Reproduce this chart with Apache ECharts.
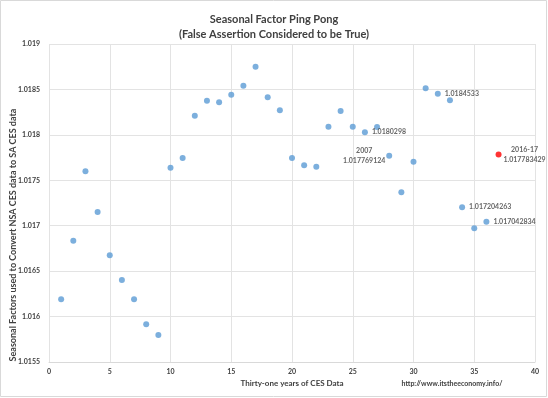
<!DOCTYPE html>
<html>
<head>
<meta charset="utf-8">
<script src="https://cdn.jsdelivr.net/npm/echarts@6/dist/echarts.min.js"></script>
<style>
  html, body { margin: 0; padding: 0; background: #fff; }
  #chart { width: 548px; height: 398px; }
</style>
</head>
<body>
<div id="chart"></div>
<script>
'use strict';

// years 1..36 of CES data, blue points
var years = [1, 2, 3, 4, 5, 6, 7, 8, 9, 10, 11, 12, 13, 14, 15, 16, 17, 18, 19, 20,
  21, 22, 23, 24, 25, 26, 27, 28, 29, 30, 31, 32, 33, 34, 35, 36];
var factors = [1.01619, 1.016835, 1.017599, 1.017151, 1.016674, 1.016403, 1.01619, 1.015915,
  1.015797, 1.017639, 1.017745, 1.018211, 1.018376, 1.018358, 1.018442, 1.018541, 1.01875,
  1.018413, 1.01827, 1.017745, 1.017665, 1.01765, 1.01809, 1.018263, 1.01809, 1.0180298,
  1.018087, 1.017769124, 1.017368, 1.017705, 1.018512, 1.0184533, 1.01838, 1.017204263,
  1.016972, 1.017042834];
// labelled points: year -> label text
var labelled = { 26: '1.0180298', 28: '2007\n1.017769124', 32: '1.0184533',
  34: '1.017204263', 36: '1.017042834' };

// latest year, red point
var latestYear = [37];
var latestFactor = [1.017783429];
var latestLabel = '2016-17\n1.017783429';

var yTicks = [1.0155, 1.016, 1.0165, 1.017, 1.0175, 1.018, 1.0185, 1.019];

var FONT = 'Lato';
var TXT = '#404040';

var blueData = years.map(function (x, i) {
  var item = { value: [x, factors[i]] };
  if (labelled[x]) {
    item.label = x === 28
      ? { show: true, formatter: labelled[x], position: [-22, 3], align: 'center', verticalAlign: 'middle' }
      : { show: true, formatter: labelled[x], position: 'right', distance: 4 };
  }
  return item;
});

var chart = echarts.init(document.getElementById('chart'));
chart.setOption({
  animation: false,
  textStyle: { fontFamily: FONT },
  title: {
    text: 'Seasonal Factor Ping Pong\n(False Assertion Considered to be True)',
    left: 'center',
    top: 7,
    textStyle: { fontFamily: FONT, fontSize: 11, fontWeight: 'bold', color: TXT, lineHeight: 15 }
  },
  grid: { left: 49, right: 13, top: 44, bottom: 36 },
  xAxis: {
    type: 'value',
    min: 0, max: 40, interval: 5,
    name: 'Thirty-one years of CES Data',
    nameLocation: 'middle',
    nameGap: 16,
    nameTextStyle: { fontFamily: FONT, fontSize: 8, fontWeight: 'bold', color: TXT },
    axisLine: { lineStyle: { color: '#d9d9d9' } },
    axisTick: { show: false },
    axisLabel: { fontSize: 7, fontWeight: 'bold', color: TXT, margin: 6 },
    splitLine: { lineStyle: { color: '#e3e3e3' } }
  },
  yAxis: {
    type: 'value',
    min: yTicks[0], max: yTicks[yTicks.length - 1], interval: 0.0005,
    axisLine: { show: false },
    axisTick: { show: false },
    axisLabel: {
      fontSize: 7, fontWeight: 'bold', color: TXT, margin: 9,
      formatter: function (v) { return String(parseFloat(v.toFixed(4))); }
    },
    splitLine: { lineStyle: { color: '#e3e3e3' } }
  },
  series: [{
    type: 'scatter',
    data: blueData,
    symbolSize: 6,
    itemStyle: { color: '#5B9BD5' },
    label: { fontSize: 7, fontWeight: 'bold', color: TXT, lineHeight: 10 }
  }, {
    type: 'scatter',
    data: latestYear.map(function (x, i) { return [x, latestFactor[i]]; }),
    symbolSize: 6,
    itemStyle: { color: '#FF0000' },
    label: {
      show: true, formatter: latestLabel, position: [29, 3], align: 'center', verticalAlign: 'middle',
      fontSize: 7, fontWeight: 'bold', color: TXT, lineHeight: 10
    }
  }],
  graphic: [{
    type: 'rect',
    shape: { x: 0.5, y: 0.5, width: 546, height: 396 },
    style: { fill: null, stroke: '#d9d9d9', lineWidth: 1 },
    silent: true
  }, {
    type: 'text',
    x: 13, y: 235,
    rotation: Math.PI / 2,
    style: {
      text: 'Seasonal Factors used to Convert NSA CES data to SA CES data',
      font: 'bold 9px ' + FONT, fill: TXT, align: 'center', verticalAlign: 'middle'
    }
  }, {
    type: 'text',
    x: 452, y: 384,
    style: {
      text: 'http://www.itstheeconomy.info/',
      font: 'bold 7px ' + FONT, fill: TXT, align: 'center', verticalAlign: 'middle'
    }
  }]
});
</script>
</body>
</html>
